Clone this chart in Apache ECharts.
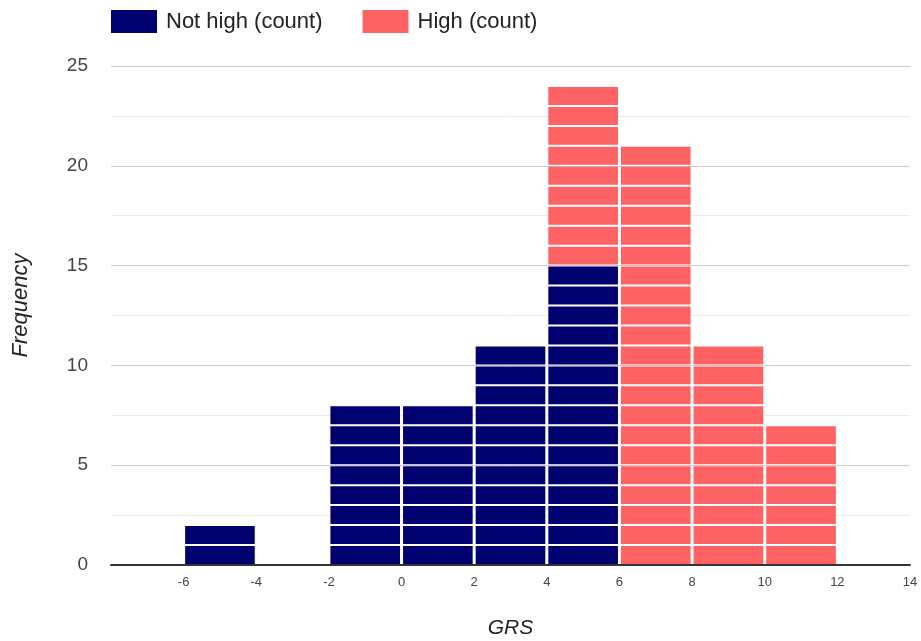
<!DOCTYPE html>
<html>
<head>
<meta charset="utf-8">
<script src="https://cdn.jsdelivr.net/npm/echarts@6/dist/echarts.min.js"></script>
<style>html,body{margin:0;padding:0;background:#fff;}#c{width:921px;height:641px;}</style>
</head>
<body>
<div id="c"></div>
<script>
// Bin start values (bin width 2)
var binStarts = [-8, -6, -4, -2, 0, 2, 4, 6, 8, 10, 12];
var binWidth = 2;
var notHighCounts = [0, 2, 0, 8, 8, 11, 15, 0, 0, 0, 0];
var highCounts    = [0, 0, 0, 0, 0, 0, 9, 21, 11, 7, 0];
var seriesNames = ['Not high (count)', 'High (count)'];
var seriesColors = ['#00006e', '#ff6262'];
var xTicks = [-8, -6, -4, -2, 0, 2, 4, 6, 8, 10, 12, 14];

function blocks(counts, base) {
  var out = [];
  for (var i = 0; i < binStarts.length; i++) {
    var b = base ? base[i] : 0;
    for (var k = 0; k < counts[i]; k++) {
      out.push([binStarts[i], binStarts[i] + binWidth, b + k, b + k + 1]);
    }
  }
  return out;
}

function renderBlock(params, api) {
  var p0 = api.coord([api.value(0), api.value(3)]);
  var p1 = api.coord([api.value(1), api.value(2)]);
  var x = p0[0] + 1.5, y = p0[1] + 1, w = p1[0] - p0[0] - 3, h = p1[1] - p0[1] - 2;
  return {
    type: 'rect',
    shape: { x: x, y: y, width: w, height: h },
    style: { fill: api.visual('color') }
  };
}

var chart = echarts.init(document.getElementById('c'));
chart.setOption({
  animation: false,
  textStyle: { fontFamily: 'Arial, Liberation Sans, sans-serif' },
  legend: {
    left: 106, top: 5,
    itemWidth: 46, itemHeight: 23, itemGap: 40,
    icon: 'rect',
    textStyle: { fontSize: 22, color: '#222', padding: [0, 0, 0, 4] },
    data: seriesNames
  },
  grid: { left: 111, right: 11, top: 66, bottom: 76, containLabel: false, outerBoundsMode: 'none' },
  xAxis: {
    type: 'value', min: -8, max: 14, interval: 2,
    name: 'GRS', nameLocation: 'middle', nameGap: 53,
    nameTextStyle: { fontSize: 21, fontStyle: 'italic', color: '#222' },
    axisLine: { show: true, onZero: false, lineStyle: { color: '#333', width: 2 } },
    axisTick: { show: false },
    splitLine: { show: false },
    axisLabel: {
      fontSize: 13, color: '#444', margin: 11,
      formatter: function (v) { return v === xTicks[0] ? '' : String(v); }
    }
  },
  yAxis: {
    type: 'value', min: 0, max: 25, interval: 5,
    name: 'Frequency', nameLocation: 'middle', nameGap: 79,
    nameTextStyle: { fontSize: 22, fontStyle: 'italic', color: '#222', padding: [0, 0, 0, 20] },
    axisLine: { show: false },
    axisTick: { show: false },
    axisLabel: { fontSize: 19, color: '#444', margin: 23 },
    splitLine: { show: true, lineStyle: { color: '#cccccc', width: 1 } },
    minorTick: { show: false, splitNumber: 2 },
    minorSplitLine: { show: true, lineStyle: { color: '#ebebeb', width: 1 } }
  },
  series: [
    {
      name: seriesNames[0], type: 'custom', color: seriesColors[0],
      itemStyle: { color: seriesColors[0] },
      renderItem: renderBlock, encode: { x: [0, 1], y: [2, 3] },
      data: blocks(notHighCounts)
    },
    {
      name: seriesNames[1], type: 'custom', color: seriesColors[1],
      itemStyle: { color: seriesColors[1] },
      renderItem: renderBlock, encode: { x: [0, 1], y: [2, 3] },
      data: blocks(highCounts, notHighCounts)
    }
  ]
});
</script>
</body>
</html>
